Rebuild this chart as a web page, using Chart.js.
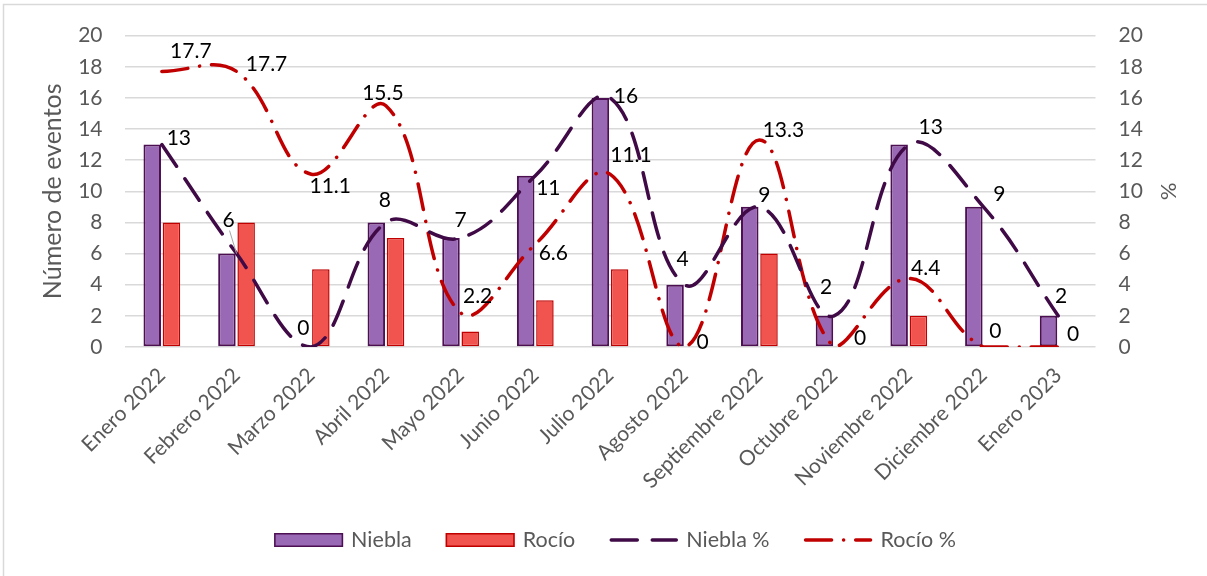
<!DOCTYPE html>
<html>
<head>
<meta charset="utf-8">
<script src="https://cdn.jsdelivr.net/npm/chart.js@4.4.1/dist/chart.umd.min.js"></script>
<style>
  html, body { margin: 0; padding: 0; background: #ffffff; }
  #wrap { width: 1207px; height: 576px; position: relative; }
</style>
</head>
<body>
<div id="wrap"><canvas id="grafico" width="1207" height="576"></canvas></div>
<script>
// Meses del periodo
const meses = ['Enero 2022', 'Febrero 2022', 'Marzo 2022', 'Abril 2022', 'Mayo 2022', 'Junio 2022',
  'Julio 2022', 'Agosto 2022', 'Septiembre 2022', 'Octubre 2022', 'Noviembre 2022', 'Diciembre 2022', 'Enero 2023'];

// Número de eventos por mes
const niebla = [13, 6, 0, 8, 7, 11, 16, 4, 9, 2, 13, 9, 2];
const rocio = [8, 8, 5, 7, 1, 3, 5, 0, 6, 0, 2, 0, 0];

// Porcentaje mensual respecto al total de cada fenómeno
const nieblaPct = [13, 6, 0, 8, 7, 11, 16, 4, 9, 2, 13, 9, 2];
const rocioPct = [17.7, 17.7, 11.1, 15.5, 2.2, 6.6, 11.1, 0, 13.3, 0, 4.4, 0, 0];

// Escala de los dos ejes verticales
const ejeMin = 0;
const ejeMax = 20;
const ejePaso = 2;

// Desplazamiento (px) de cada etiqueta respecto a su punto
const despNiebla = [[17, -6], [-8, -33], [-8, -19], [-1, -22], [0, -18], [13, 13], [16, -2],
  [-2, -25], [5, -12], [-8, -29], [22, -17], [16, -13], [3, -20]];
const despRocio = [[29, -20], [30, -7], [19, 12], [-3, -12], [17, -17], [18, 9], [21, -19],
  [18, -5], [24, -10], [26, -9], [17, -10], [12, -16], [15, -13]];

const GRIS = '#595959';
const FUENTE = 'Lato, "Liberation Sans", sans-serif';

const estilos = {
  niebla: { fondo: '#9a69b5', borde: '#4b0f52' },
  rocio: { fondo: '#f1534e', borde: '#c00000' },
  nieblaPct: { color: '#3f0a46', dash: [26, 15] },
  rocioPct: { color: '#c00000', dash: [26, 12, 0.1, 12] }
};

// Las barras con valor cero no se dibujan
const sinCeros = (arr) => arr.map((v) => (v === 0 ? null : v));

// Marco gris del área del gráfico
const marco = {
  id: 'marco',
  beforeDraw(chart) {
    const ctx = chart.ctx;
    ctx.save();
    ctx.fillStyle = '#ffffff';
    ctx.fillRect(0, 0, chart.width, chart.height);
    ctx.strokeStyle = '#d9d9d9';
    ctx.lineWidth = 1.5;
    ctx.beginPath();
    ctx.moveTo(3.5, chart.height);
    ctx.lineTo(3.5, 4.5);
    ctx.lineTo(chart.width, 4.5);
    ctx.stroke();
    ctx.restore();
  }
};

// Etiquetas de valor de las series de porcentaje
const etiquetas = {
  id: 'etiquetas',
  afterDatasetDraw(chart, args) {
    const ds = chart.data.datasets[args.index];
    if (!ds.desp) return;
    const ctx = chart.ctx;
    ctx.save();
    ctx.font = '21px ' + FUENTE;
    ctx.textAlign = 'center';
    ctx.textBaseline = 'middle';
    args.meta.data.forEach((pt, i) => {
      const [dx, dy] = ds.desp[i];
      const x = pt.x + dx;
      const y = pt.y + dy;
      if (ds.guia && ds.guia[i]) {
        ctx.strokeStyle = '#a6a6a6';
        ctx.lineWidth = 1;
        ctx.beginPath();
        ctx.moveTo(x + 1, y + 10);
        ctx.lineTo(pt.x, pt.y);
        ctx.stroke();
      }
      ctx.fillStyle = '#000000';
      ctx.fillText(String(ds.data[i]), x, y);
    });
    ctx.restore();
  }
};

// Leyenda inferior
const leyenda = {
  id: 'leyenda',
  afterDraw(chart) {
    const ctx = chart.ctx;
    ctx.save();
    ctx.font = '21.5px ' + FUENTE;
    ctx.textBaseline = 'middle';
    ctx.textAlign = 'left';
    const simbolo = 69, sep = 8, hueco = 34, yc = 540;
    const items = chart.data.datasets;
    let total = 0;
    items.forEach((d, i) => {
      total += simbolo + sep + ctx.measureText(d.label).width + (i < items.length - 1 ? hueco : 0);
    });
    let x = 615 - total / 2;
    items.forEach((d) => {
      if (d.type === 'bar') {
        ctx.fillStyle = d.backgroundColor;
        ctx.fillRect(x, yc - 7, simbolo, 14);
        ctx.strokeStyle = d.borderColor;
        ctx.lineWidth = 1.5;
        ctx.strokeRect(x + 0.75, yc - 6.25, simbolo - 1.5, 12.5);
      } else {
        ctx.strokeStyle = d.borderColor;
        ctx.lineWidth = d.borderWidth;
        ctx.lineCap = 'round';
        ctx.setLineDash(d.borderDash);
        ctx.beginPath();
        ctx.moveTo(x + 2, yc);
        ctx.lineTo(x + simbolo - 2, yc);
        ctx.stroke();
        ctx.setLineDash([]);
      }
      x += simbolo + sep;
      ctx.fillStyle = GRIS;
      ctx.fillText(d.label, x, yc);
      x += ctx.measureText(d.label).width + hueco;
    });
    ctx.restore();
  }
};

const fuenteEje = { family: FUENTE, size: 21 };

new Chart(document.getElementById('grafico'), {
  type: 'bar',
  data: {
    labels: meses,
    datasets: [
      {
        type: 'bar', label: 'Niebla', data: sinCeros(niebla), yAxisID: 'y', order: 2,
        backgroundColor: estilos.niebla.fondo, borderColor: estilos.niebla.borde,
        borderWidth: 2, borderSkipped: false, barPercentage: 0.91, categoryPercentage: 0.515
      },
      {
        type: 'bar', label: 'Rocío', data: sinCeros(rocio), yAxisID: 'y', order: 3,
        backgroundColor: estilos.rocio.fondo, borderColor: estilos.rocio.borde,
        borderWidth: 1.5, borderSkipped: false, barPercentage: 0.91, categoryPercentage: 0.515
      },
      {
        type: 'line', label: 'Niebla %', data: nieblaPct, yAxisID: 'y1', order: 0,
        borderColor: estilos.nieblaPct.color, borderWidth: 3.5, borderDash: estilos.nieblaPct.dash,
        borderCapStyle: 'round', tension: 0.4, pointRadius: 0, fill: false,
        desp: despNiebla, guia: [false, true]
      },
      {
        type: 'line', label: 'Rocío %', data: rocioPct, yAxisID: 'y1', order: 1,
        borderColor: estilos.rocioPct.color, borderWidth: 3.5, borderDash: estilos.rocioPct.dash,
        borderCapStyle: 'round', tension: 0.4, pointRadius: 0, fill: false,
        desp: despRocio
      }
    ]
  },
  options: {
    responsive: false,
    animation: false,
    devicePixelRatio: 1,
    layout: { padding: { top: 34, left: 0, right: 0, bottom: 0 } },
    plugins: { legend: { display: false }, tooltip: { enabled: false }, title: { display: false } },
    scales: {
      x: {
        grid: { display: false, drawTicks: false },
        border: { display: false },
        ticks: { color: GRIS, font: { family: FUENTE, size: 21 }, maxRotation: 45, minRotation: 45, autoSkip: false, padding: 16 },
        afterFit(s) { s.height = 576 - 347; }
      },
      y: {
        position: 'left', min: ejeMin, max: ejeMax,
        ticks: { stepSize: ejePaso, color: GRIS, font: fuenteEje, padding: 22 },
        grid: { color: '#d9d9d9', lineWidth: 1.5, drawTicks: false },
        border: { display: false },
        title: { display: true, text: 'Número de eventos', color: GRIS, font: { family: FUENTE, size: 25 }, padding: { top: 38, bottom: 0 } },
        afterFit(s) { s.width = 124.5; }
      },
      y1: {
        position: 'right', min: ejeMin, max: ejeMax,
        ticks: { stepSize: ejePaso, color: GRIS, font: fuenteEje, padding: 23 },
        grid: { display: false, drawTicks: false },
        border: { display: false },
        title: { display: true, text: '%', color: GRIS, font: { family: FUENTE, size: 22 }, padding: { top: 26, bottom: 0 } },
        afterFit(s) { s.width = 1207 - 1095.5; }
      }
    }
  },
  plugins: [marco, etiquetas, leyenda]
});
</script>
</body>
</html>
